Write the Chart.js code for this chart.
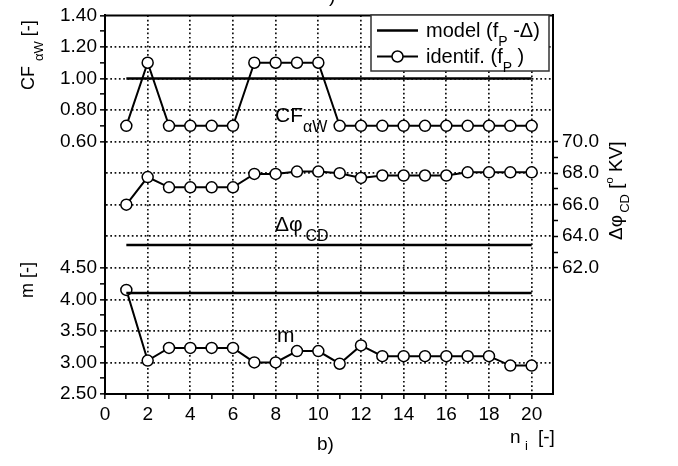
<!DOCTYPE html>
<html>
<head>
<meta charset="utf-8">
<script src="https://cdn.jsdelivr.net/npm/chart.js@4.4.0/dist/chart.umd.min.js"></script>
<style>
  html, body { margin: 0; padding: 0; background: #fff; }
  #wrap { width: 678px; height: 466px; position: relative; }
</style>
</head>
<body>
<div id="wrap"><canvas id="chart"></canvas></div>
<script>
// ---- data ----
const runs = [1, 2, 3, 4, 5, 6, 7, 8, 9, 10, 11, 12, 13, 14, 15, 16, 17, 18, 19, 20];
const modelRuns = [1, 20];

const cfIdent = [0.70, 1.10, 0.70, 0.70, 0.70, 0.70, 1.10, 1.10, 1.10, 1.10,
                 0.70, 0.70, 0.70, 0.70, 0.70, 0.70, 0.70, 0.70, 0.70, 0.70];
const cfModel = [1.00, 1.00];

const phiIdent = [66.0, 67.75, 67.1, 67.1, 67.1, 67.1, 67.95, 67.95, 68.1, 68.1,
                  68.0, 67.7, 67.85, 67.85, 67.85, 67.85, 68.05, 68.05, 68.05, 68.05];
const phiModel = [63.45, 63.45];

const mIdent = [4.15, 3.03, 3.23, 3.23, 3.23, 3.23, 3.00, 3.00, 3.18, 3.18,
                2.98, 3.27, 3.10, 3.10, 3.10, 3.10, 3.10, 3.10, 2.95, 2.95];
const mModel = [4.10, 4.10];

// left axis labels from bottom to top: m part, empty gap, CF part
const mTicks = ['2.50', '3.00', '3.50', '4.00', '4.50'];
const cfTicks = ['0.60', '0.80', '1.00', '1.20', '1.40'];
const leftTicks = mTicks.concat(['', '', '']).concat(cfTicks);
const phiTicks = [62, 64, 66, 68, 70];
const xTicks = [0, 2, 4, 6, 8, 10, 12, 14, 16, 18, 20];

const FONT = '"Liberation Sans", Arial, sans-serif';
Chart.defaults.font.family = FONT;
Chart.defaults.color = '#000';

function pts(xs, ys) {
  return xs.map((x, i) => ({x: x, y: ys[i]}));
}

function modelSet(ys, axis) {
  return {data: pts(modelRuns, ys), yAxisID: axis, borderColor: '#000', borderWidth: 2.5,
          pointRadius: 0, tension: 0};
}
function identSet(ys, axis) {
  return {data: pts(runs, ys), yAxisID: axis, borderColor: '#000', borderWidth: 2,
          pointRadius: 5.5, pointBorderWidth: 1.5, pointBackgroundColor: '#fff',
          pointBorderColor: '#000', tension: 0};
}

// draw text pieces (with sub/superscripts) in a row
function rich(ctx, parts, x, y, angle) {
  ctx.save();
  ctx.translate(x, y);
  ctx.rotate(angle || 0);
  ctx.textBaseline = 'alphabetic';
  ctx.textAlign = 'left';
  let cx = 0;
  parts.forEach(p => {
    ctx.font = p[1] + 'px ' + FONT;
    ctx.fillText(p[0], cx, p[2] || 0);
    cx += ctx.measureText(p[0]).width;
  });
  ctx.restore();
}

const extras = {
  id: 'extras',
  afterDraw(chart) {
    const ctx = chart.ctx, a = chart.chartArea;
    ctx.save();
    ctx.fillStyle = '#000';
    ctx.strokeStyle = '#000';
    // top frame
    ctx.lineWidth = 2;
    ctx.beginPath(); ctx.moveTo(a.left - 1, a.top); ctx.lineTo(a.right + 1, a.top); ctx.stroke();

    // legend
    ctx.fillStyle = '#fff';
    ctx.fillRect(371, 15, 178, 56);
    ctx.strokeStyle = '#333'; ctx.lineWidth = 1.5;
    ctx.strokeRect(371, 15, 178, 56);
    ctx.strokeStyle = '#000'; ctx.lineWidth = 2.5;
    ctx.beginPath(); ctx.moveTo(377, 30.5); ctx.lineTo(418, 30.5); ctx.stroke();
    ctx.lineWidth = 2;
    ctx.beginPath(); ctx.moveTo(377, 56.5); ctx.lineTo(418, 56.5); ctx.stroke();
    ctx.fillStyle = '#fff'; ctx.lineWidth = 1.5;
    ctx.beginPath(); ctx.arc(397.5, 56.5, 5.5, 0, Math.PI * 2); ctx.fill(); ctx.stroke();
    ctx.fillStyle = '#000';
    rich(ctx, [['model (f', 20], ['P', 14, 9], [' -\u0394)', 20]], 426, 37);
    rich(ctx, [['identif. (f', 20], ['P', 14, 9], [' )', 20]], 426, 63);

    // in-plot labels
    rich(ctx, [['CF', 21], ['\u03b1W', 16, 10]], 275, 122);
    rich(ctx, [['\u0394\u03c6', 21], [' ', 10], ['CD', 16, 10]], 275, 231);
    rich(ctx, [['m', 21]], 277, 342);

    // axis titles
    rich(ctx, [['CF ', 18], ['\u03b1W', 13, 9], [' [-]', 18]], 34, 90, -Math.PI / 2);
    rich(ctx, [['m [-]', 18]], 33, 298, -Math.PI / 2);
    rich(ctx, [['\u0394\u03c6', 19], [' ', 8], ['CD', 13, 7], [' [', 19], ['o', 11, -9], [' KV]', 19]],
         622, 240, -Math.PI / 2);
    rich(ctx, [['n', 19]], 510, 443);
    rich(ctx, [['i', 13]], 525, 450);
    rich(ctx, [['[-]', 19]], 538, 443);
    rich(ctx, [['b)', 19]], 317, 450);
    rich(ctx, [[')', 19]], 329, 2);
    ctx.restore();
  }
};

const dots = [1.7, 2.6];

const chart = new Chart(document.getElementById('chart'), {
  type: 'line',
  data: {
    datasets: [
      modelSet(cfModel, 'yCF'),
      identSet(cfIdent, 'yCF'),
      modelSet(phiModel, 'yPhi'),
      identSet(phiIdent, 'yPhi'),
      modelSet(mModel, 'y'),
      identSet(mIdent, 'y')
    ]
  },
  options: {
    responsive: true,
    maintainAspectRatio: false,
    animation: false,
    layout: {padding: {top: 12, left: 0, right: 0, bottom: 0}},
    plugins: {legend: {display: false}, tooltip: {enabled: false}},
    scales: {
      x: {
        type: 'linear', min: 0, max: 21,
        afterFit: s => { s.height = 72; },
        ticks: {
          stepSize: 1, autoSkip: false, maxRotation: 0, padding: 4,
          font: {size: 19},
          callback: v => xTicks.includes(v) ? String(v) : ''
        },
        grid: {
          color: c => (c.tick && c.tick.value % 2 === 0 && c.tick.value > 0 && c.tick.value <= 20) ? '#111' : 'transparent',
          tickColor: c => (c.tick && c.tick.value <= 20) ? '#000' : 'transparent',
          lineWidth: 1.7, tickLength: 5, tickWidth: 1.5
        },
        border: {color: '#000', width: 2, dash: dots}
      },
      y: {
        position: 'left', min: 2.5, max: 8.5,
        afterFit: s => { s.width = 105; },
        ticks: {
          stepSize: 0.25, autoSkip: false, padding: 3,
          font: {size: 19},
          callback: (v, i) => i % 2 === 0 ? leftTicks[i / 2] : ''
        },
        grid: {
          color: c => (c.index % 2 === 0 && c.index > 0 && c.index < 24) ? '#111' : 'transparent',
          tickColor: c => (c.index <= 8 || c.index >= 16) ? '#000' : 'transparent',
          lineWidth: 1.7, tickLength: 5, tickWidth: 1.5
        },
        border: {color: '#000', width: 2, dash: dots}
      },
      yCF: {display: false, min: -1.0, max: 1.4},
      yPhi: {
        position: 'right', min: 54, max: 78,
        afterFit: s => { s.width = 125; },
        ticks: {
          stepSize: 1, autoSkip: false, padding: 4,
          font: {size: 19},
          callback: v => phiTicks.includes(v) ? v.toFixed(1) : ''
        },
        grid: {
          drawOnChartArea: false,
          tickColor: c => (c.tick && c.tick.value >= 62 && c.tick.value <= 70) ? '#000' : 'transparent',
          tickLength: 5, tickWidth: 1.5
        },
        border: {color: '#000', width: 2}
      }
    }
  },
  plugins: [extras]
});
</script>
</body>
</html>
